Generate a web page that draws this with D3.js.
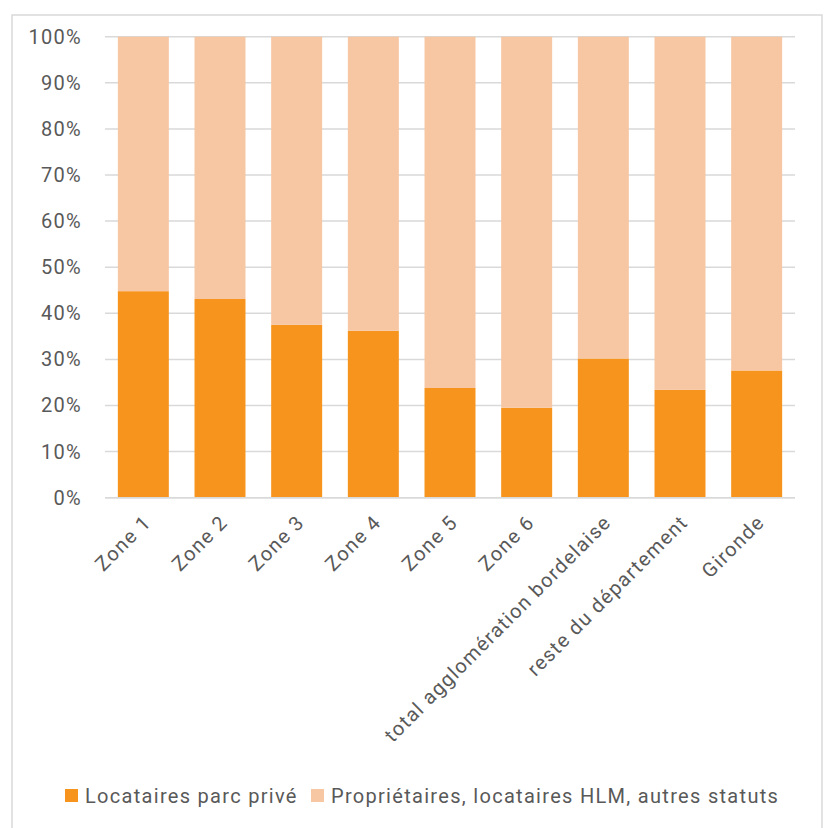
<!DOCTYPE html>
<html><head><meta charset="utf-8">
<script src="https://cdn.jsdelivr.net/npm/d3@7"></script>
<style>html,body{margin:0;padding:0;background:#fff;}svg{display:block;}</style>
</head><body>
<script>
const categories = ["Zone 1","Zone 2","Zone 3","Zone 4","Zone 5","Zone 6","total agglomération bordelaise","reste du département","Gironde"];
const locatairesPrive = [44.8, 43.1, 37.5, 36.2, 23.8, 19.5, 30.2, 23.4, 27.6];
const autres = locatairesPrive.map(v => 100 - v);
const seriesNames = ["Locataires parc privé", "Propriétaires, locataires HLM, autres statuts"];
const yTicks = [0,10,20,30,40,50,60,70,80,90,100];

const W = 825, H = 828;
const colors = ["#F7941D", "#F7C6A3"];
const font = "Roboto, 'Open Sans', sans-serif";
const textColor = "#595959";
const fs = "20px", ls = "1.3px";

const svg = d3.select("body").append("svg").attr("width", W).attr("height", H);
svg.append("rect").attr("x", 12).attr("y", 15).attr("width", 810).attr("height", 830)
  .attr("fill", "#fff").attr("stroke", "#d9d9d9").attr("stroke-width", 1.5);

const x = d3.scaleBand().domain(categories).range([105, 795]).paddingInner(0.335).paddingOuter(0.1675);
const y = d3.scaleLinear().domain([0, 100]).range([497.7, 36.7]);

// gridlines
svg.append("g").selectAll("line").data(yTicks).join("line")
  .attr("x1", 105).attr("x2", 795)
  .attr("y1", d => y(d)).attr("y2", d => y(d))
  .attr("stroke", "#d9d9d9").attr("stroke-width", 1.5);

const data = categories.map((c, i) => ({cat: c, a: locatairesPrive[i], b: autres[i]}));
const stack = d3.stack().keys(["a", "b"])(data);

svg.append("g").selectAll("g").data(stack).join("g")
  .attr("fill", (d, i) => colors[i])
  .selectAll("rect").data(d => d).join("rect")
  .attr("x", d => x(d.data.cat))
  .attr("width", x.bandwidth())
  .attr("y", d => y(d[1]))
  .attr("height", d => y(d[0]) - y(d[1]));

// baseline
svg.append("line").attr("x1", 105).attr("x2", 795).attr("y1", y(0)).attr("y2", y(0))
  .attr("stroke", "#d9d9d9").attr("stroke-width", 1.5);

// y axis labels
const yAxis = d3.axisLeft(y).tickValues(yTicks).tickFormat(d => d + "%").tickSize(0).tickPadding(0);
const gy = svg.append("g").attr("transform", "translate(82,0)").call(yAxis);
gy.select(".domain").remove();
gy.selectAll("text").attr("fill", textColor).style("font-family", font).style("font-size", fs).style("letter-spacing", ls);

// x axis labels
const xAxis = d3.axisBottom(x).tickSize(0).tickPadding(0);
const gx = svg.append("g").attr("transform", `translate(0,${y(0)})`).call(xAxis);
gx.select(".domain").remove();
gx.selectAll("text")
  .attr("fill", textColor).style("font-family", font).style("font-size", fs).style("letter-spacing", ls)
  .attr("text-anchor", "end").attr("dy", "0.35em").attr("y", 0)
  .attr("transform", "translate(4,21) rotate(-45)");

// legend
const legend = svg.append("g").attr("transform", "translate(65,796)");
const items = [{x: 0, name: seriesNames[0], c: colors[0]}, {x: 246, name: seriesNames[1], c: colors[1]}];
items.forEach(it => {
  legend.append("rect").attr("x", it.x).attr("y", -7).attr("width", 13).attr("height", 13).attr("fill", it.c);
  legend.append("text").attr("x", it.x + 20).attr("y", 0).attr("dy", "0.35em")
    .attr("fill", textColor).style("font-family", font).style("font-size", fs).style("letter-spacing", ls).text(it.name);
});
</script>
</body></html>
